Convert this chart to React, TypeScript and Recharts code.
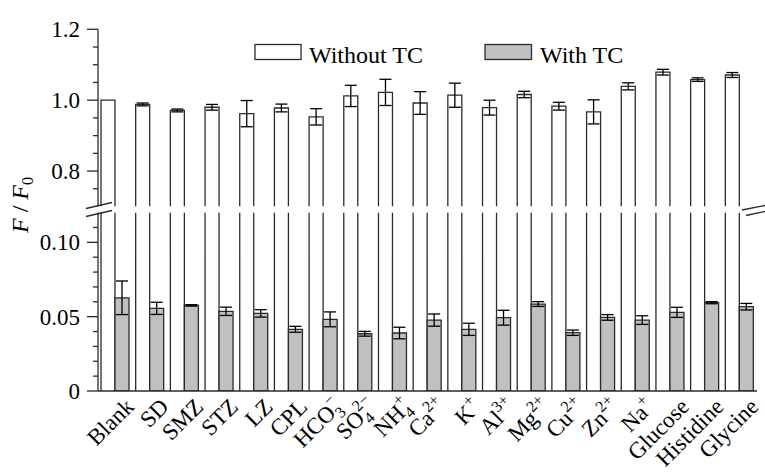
import React from "react"
import { Bar, BarChart, ErrorBar, XAxis, YAxis } from "recharts"

// categories and their label pieces (main text, subscript, superscript)
const categories = ["Blank", "SD", "SMZ", "STZ", "LZ", "CPL", "HCO3−", "SO42−", "NH4+", "Ca2+", "K+", "Al3+", "Mg2+", "Cu2+", "Zn2+", "Na+", "Glucose", "Histidine", "Glycine"]
const labelMain = ["Blank", "SD", "SMZ", "STZ", "LZ", "CPL", "HCO", "SO", "NH", "Ca", "K", "Al", "Mg", "Cu", "Zn", "Na", "Glucose", "Histidine", "Glycine"]
const labelSub = ["", "", "", "", "", "", "3", "4", "4", "", "", "", "", "", "", "", "", "", ""]
const labelSup = ["", "", "", "", "", "", "−", "2−", "+", "2+", "+", "3+", "2+", "2+", "2+", "+", "", "", ""]

const withoutTC = [1.0, 0.988, 0.971, 0.98, 0.962, 0.978, 0.953, 1.012, 1.022, 0.992, 1.014, 0.979, 1.016, 0.983, 0.967, 1.039, 1.079, 1.058, 1.071]
const withoutTCErr = [0, 0.004, 0.004, 0.008, 0.037, 0.011, 0.023, 0.03, 0.037, 0.032, 0.034, 0.021, 0.009, 0.011, 0.034, 0.01, 0.008, 0.005, 0.007]
const withTC = [0.0627, 0.0556, 0.0576, 0.0536, 0.0522, 0.0415, 0.0482, 0.0385, 0.039, 0.0477, 0.0415, 0.0493, 0.0585, 0.0392, 0.0495, 0.0477, 0.0529, 0.0594, 0.0567]
const withTCErr = [0.0113, 0.0041, 0.0005, 0.0028, 0.0025, 0.002, 0.005, 0.0016, 0.0039, 0.0041, 0.0041, 0.005, 0.0016, 0.0018, 0.0019, 0.0029, 0.0034, 0.0007, 0.0022]

const upperMajor = [0.8, 1.0, 1.2]
const upperMajorLabels = ["0.8", "1.0", "1.2"]
const upperMinor = [0.75, 0.85, 0.9, 0.95, 1.05, 1.1, 1.15]
const lowerMajor = [0, 0.05, 0.1]
const lowerMajorLabels = ["0", "0.05", "0.10"]
const lowerMinor = [0.01, 0.02, 0.03, 0.04, 0.06, 0.07, 0.08, 0.09, 0.11]

const data = categories.map((name, i) => ({
  name,
  withoutTC: withoutTC[i],
  withoutTCErr: withoutTCErr[i],
  withTC: withTC[i],
  withTCErr: withTCErr[i],
}))

const AXIS = "#2b2b2b"
const GREY = "#c0c0c0"
const FONT = "'Liberation Serif', 'Times New Roman', serif"
const W = 765
const H = 472

function YTick(props: any) {
  const { x, y, payload, majors, labels } = props
  const i = majors.findIndex((m: number) => Math.abs(m - payload.value) < 1e-6)
  const major = i >= 0
  return (
    <g>
      <line x1={x} x2={x - (major ? 11 : 5)} y1={y} y2={y} stroke={AXIS} strokeWidth={1.3} />
      {major && (
        <text x={x - 18} y={y} dy="0.35em" textAnchor="end" fontSize={23} fontFamily={FONT} fill="#000">
          {labels[i]}
        </text>
      )}
    </g>
  )
}

function XTick(props: any) {
  const { x, y, payload } = props
  const i = categories.indexOf(payload.value)
  const ax = x + 20
  const ay = y + 17
  const sub = labelSub[i]
  const sup = labelSup[i]
  return (
    <text x={ax} y={ay} transform={`rotate(-45 ${ax} ${ay})`} textAnchor="end" fontSize={23} fontFamily={FONT} fill="#000">
      {labelMain[i]}
      {sub && (
        <tspan fontSize={16} dy={6}>
          {sub}
        </tspan>
      )}
      {sup && (
        <tspan fontSize={16} dx={sub ? -8 : 0} dy={sub ? -17 : -10}>
          {sup}
        </tspan>
      )}
    </text>
  )
}

// bar drawn with an open bottom, cut to the panel it sits in
function OpenBar(props: any) {
  const { x, y, width, height, background, fill } = props
  const t0 = Math.min(y, y + height)
  const b0 = Math.max(y, y + height)
  const bgTop = background ? background.y : -Infinity
  const bgBot = background ? background.y + background.height : Infinity
  const top = Math.max(t0, bgTop)
  const bot = Math.min(b0, bgBot)
  if (!(bot > top)) return <g />
  const showTop = t0 >= bgTop - 0.5
  const d = showTop
    ? `M${x},${bot}L${x},${top}L${x + width},${top}L${x + width},${bot}`
    : `M${x},${bot}L${x},${top}M${x + width},${top}L${x + width},${bot}`
  return (
    <g>
      <rect x={x} y={top} width={width} height={bot - top} fill={fill} />
      <path d={d} fill="none" stroke={AXIS} strokeWidth={1.3} />
    </g>
  )
}

const axisLine = { stroke: AXIS, strokeWidth: 1.3 }

export default function App() {
  return (
    <div style={{ position: "absolute", left: 0, top: 0, width: W, height: H, background: "#fff", fontFamily: FONT }}>
      <div style={{ position: "absolute", left: 0, top: 0 }}>
        <BarChart width={W} height={H} data={data} margin={{ top: 29.3, right: 8, bottom: 265.5, left: 0 }} barSize={14} barGap={0}>
          <XAxis dataKey="name" hide />
          <XAxis xAxisId="top" dataKey="name" orientation="top" height={0} tick={false} tickLine={false} axisLine={axisLine} />
          <YAxis
            type="number"
            domain={[0.7, 1.2]}
            allowDataOverflow
            ticks={[...upperMinor, ...upperMajor].sort((a, b) => a - b)}
            interval={0}
            width={98}
            tickSize={0}
            tickMargin={0}
            tickLine={false}
            axisLine={axisLine}
            tick={<YTick majors={upperMajor} labels={upperMajorLabels} />}
          />
          <YAxis yAxisId="right" orientation="right" width={0} domain={[0, 1]} tick={false} tickLine={false} axisLine={axisLine} />
          <Bar dataKey="withoutTC" fill="#fff" shape={OpenBar} isAnimationActive={false}>
            <ErrorBar dataKey="withoutTCErr" width={6} stroke="#000" strokeWidth={1.3} direction="y" />
          </Bar>
          <Bar dataKey="withTC" fill="transparent" isAnimationActive={false} />
        </BarChart>
      </div>
      <div style={{ position: "absolute", left: 0, top: 0 }}>
        <BarChart width={W} height={H} data={data} margin={{ top: 212.6, right: 8, bottom: 0, left: 0 }} barSize={14} barGap={0}>
          <XAxis dataKey="name" height={81} interval={0} tickSize={0} tickMargin={0} tickLine={false} axisLine={axisLine} tick={<XTick />} />
          <YAxis
            type="number"
            domain={[0, 0.12]}
            allowDataOverflow
            ticks={[...lowerMinor, ...lowerMajor].sort((a, b) => a - b)}
            interval={0}
            width={98}
            tickSize={0}
            tickMargin={0}
            tickLine={false}
            axisLine={axisLine}
            tick={<YTick majors={lowerMajor} labels={lowerMajorLabels} />}
          />
          <YAxis yAxisId="right" orientation="right" width={0} domain={[0, 1]} tick={false} tickLine={false} axisLine={axisLine} />
          <Bar dataKey="withoutTC" fill="#fff" shape={OpenBar} isAnimationActive={false} />
          <Bar dataKey="withTC" fill={GREY} stroke={AXIS} strokeWidth={1.3} isAnimationActive={false}>
            <ErrorBar dataKey="withTCErr" width={6} stroke="#000" strokeWidth={1.3} direction="y" />
          </Bar>
        </BarChart>
      </div>
      <svg width={W} height={H} style={{ position: "absolute", left: 0, top: 0, pointerEvents: "none" }}>
        <text x={28} y={205} transform="rotate(-90 28 205)" textAnchor="middle" fontSize={24} fontFamily={FONT} fill="#000">
          <tspan fontStyle="italic">F</tspan>
          {" / "}
          <tspan fontStyle="italic">F</tspan>
          <tspan fontSize={16} dy={5}>0</tspan>
        </text>
        <rect x={255} y={44.5} width={46} height={15} fill="#fff" stroke={AXIS} strokeWidth={1.3} />
        <text x={309} y={62.5} fontSize={24} fontFamily={FONT} fill="#000">Without TC</text>
        <rect x={485} y={44.5} width={46.5} height={15} fill={GREY} stroke={AXIS} strokeWidth={1.3} />
        <text x={540} y={62.5} fontSize={24} fontFamily={FONT} fill="#000">With TC</text>
        <line x1={86} y1={208.5} x2={112} y2={202.5} stroke={AXIS} strokeWidth={1.3} />
        <line x1={86} y1={216.5} x2={112} y2={210.5} stroke={AXIS} strokeWidth={1.3} />
        <line x1={742} y1={210} x2={765} y2={205.5} stroke={AXIS} strokeWidth={1.3} />
        <line x1={746} y1={215.5} x2={765} y2={211.5} stroke={AXIS} strokeWidth={1.3} />
      </svg>
    </div>
  )
}
